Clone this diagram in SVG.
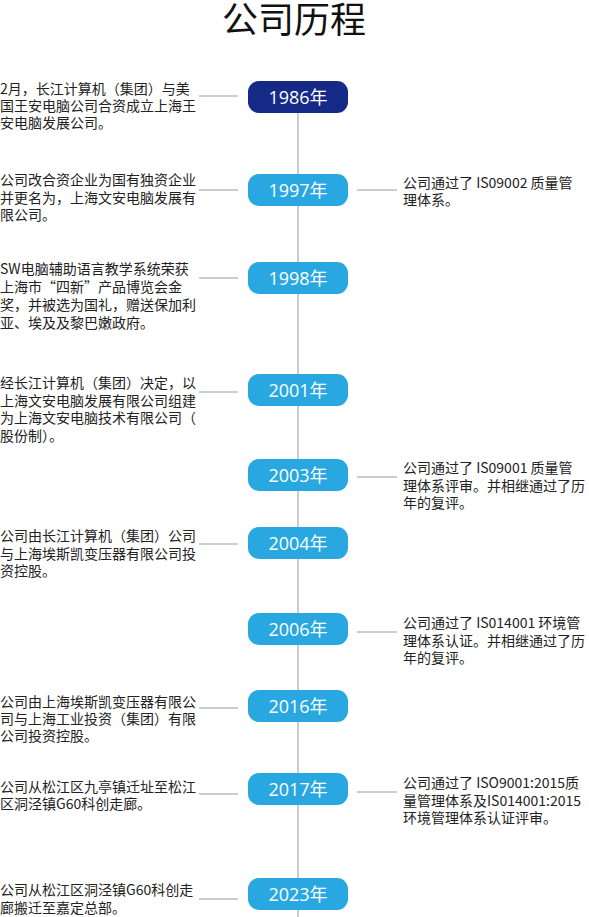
<svg xmlns="http://www.w3.org/2000/svg" width="589" height="917" viewBox="0 0 589 917">
<style>
.title{font-family:"Noto Sans CJK SC","Noto Sans",sans-serif;font-size:36px;fill:#111;}
.t{font-family:"Noto Sans CJK SC","Noto Sans",sans-serif;font-size:14px;fill:#222;}
.yr{font-family:"Open Sans","Noto Sans CJK SC",sans-serif;font-size:18px;fill:#fff;text-anchor:middle;}
.pill{fill:#29a7e1;}
.pill.first{fill:#152a87;}
.conn line{stroke:#cccccc;stroke-width:2;}
.axis{stroke:#cccccc;stroke-width:4;}
</style>
<rect width="589" height="917" fill="#fff"/>
<text class="title" x="294" y="33" text-anchor="middle">公司历程</text>
<g id="connectors" class="conn">
<line class="axis" x1="298" y1="105" x2="298" y2="917"/>
<line x1="199" y1="96" x2="238" y2="96"/>
<line x1="199" y1="190" x2="238" y2="190"/>
<line x1="199" y1="278" x2="238" y2="278"/>
<line x1="199" y1="392" x2="238" y2="392"/>
<line x1="199" y1="544" x2="238" y2="544"/>
<line x1="199" y1="708" x2="238" y2="708"/>
<line x1="199" y1="794" x2="238" y2="794"/>
<line x1="199" y1="899" x2="238" y2="899"/>
<line x1="357" y1="190" x2="397" y2="190"/>
<line x1="357" y1="477" x2="397" y2="477"/>
<line x1="357" y1="632" x2="397" y2="632"/>
<line x1="357" y1="792" x2="397" y2="792"/>
</g>
<g id="y1986">
<rect class="pill first" x="248" y="81" width="100" height="32" rx="11"/>
<text class="yr" x="298" y="103.5">1986年</text>
<text class="t" x="0" y="94"><tspan x="0">2月，长江计算机（集团）与美</tspan><tspan x="0" dy="17">国王安电脑公司合资成立上海王</tspan><tspan x="0" dy="17">安电脑发展公司。</tspan></text>
</g>
<g id="y1997">
<rect class="pill" x="248" y="174" width="100" height="32" rx="11"/>
<text class="yr" x="298" y="196.5">1997年</text>
<text class="t" x="0" y="185"><tspan x="0">公司改合资企业为国有独资企业</tspan><tspan x="0" dy="17.5">并更名为，上海文安电脑发展有</tspan><tspan x="0" dy="17.5">限公司。</tspan></text>
<text class="t" x="403" y="187.5"><tspan x="403">公司通过了 IS09002 质量管</tspan><tspan x="403" dy="17.5">理体系。</tspan></text>
</g>
<g id="y1998">
<rect class="pill" x="248" y="262" width="100" height="32" rx="11"/>
<text class="yr" x="298" y="284.5">1998年</text>
<text class="t" x="0" y="274"><tspan x="0">SW电脑辅助语言教学系统荣获</tspan><tspan x="0" dy="18">上海市“四新”产品博览会金</tspan><tspan x="0" dy="18">奖，并被选为国礼，赠送保加利</tspan><tspan x="0" dy="18">亚、埃及及黎巴嫩政府。</tspan></text>
</g>
<g id="y2001">
<rect class="pill" x="248" y="374" width="100" height="32" rx="11"/>
<text class="yr" x="298" y="396.5">2001年</text>
<text class="t" x="0" y="388"><tspan x="0">经长江计算机（集团）决定，以</tspan><tspan x="0" dy="17.5">上海文安电脑发展有限公司组建</tspan><tspan x="0" dy="17.5">为上海文安电脑技术有限公司（</tspan><tspan x="0" dy="17.5">股份制）。</tspan></text>
</g>
<g id="y2003">
<rect class="pill" x="248" y="459" width="100" height="32" rx="11"/>
<text class="yr" x="298" y="481.5">2003年</text>
<text class="t" x="403" y="473"><tspan x="403">公司通过了 IS09001 质量管</tspan><tspan x="403" dy="17.5">理体系评审。并相继通过了历</tspan><tspan x="403" dy="17.5">年的复评。</tspan></text>
</g>
<g id="y2004">
<rect class="pill" x="248" y="527" width="100" height="32" rx="11"/>
<text class="yr" x="298" y="549.5">2004年</text>
<text class="t" x="0" y="541"><tspan x="0">公司由长江计算机（集团）公司</tspan><tspan x="0" dy="17.5">与上海埃斯凯变压器有限公司投</tspan><tspan x="0" dy="17.5">资控股。</tspan></text>
</g>
<g id="y2006">
<rect class="pill" x="248" y="613" width="100" height="32" rx="11"/>
<text class="yr" x="298" y="635.5">2006年</text>
<text class="t" x="403" y="628"><tspan x="403">公司通过了 IS014001 环境管</tspan><tspan x="403" dy="17.5">理体系认证。并相继通过了历</tspan><tspan x="403" dy="17.5">年的复评。</tspan></text>
</g>
<g id="y2016">
<rect class="pill" x="248" y="690" width="100" height="32" rx="11"/>
<text class="yr" x="298" y="712.5">2016年</text>
<text class="t" x="0" y="707"><tspan x="0">公司由上海埃斯凯变压器有限公</tspan><tspan x="0" dy="17">司与上海工业投资（集团）有限</tspan><tspan x="0" dy="17">公司投资控股。</tspan></text>
</g>
<g id="y2017">
<rect class="pill" x="248" y="773" width="100" height="32" rx="11"/>
<text class="yr" x="298" y="795.5">2017年</text>
<text class="t" x="0" y="792"><tspan x="0">公司从松江区九亭镇迁址至松江</tspan><tspan x="0" dy="17">区洞泾镇G60科创走廊。</tspan></text>
<text class="t" x="403" y="788"><tspan x="403">公司通过了 ISO9001:2015质</tspan><tspan x="403" dy="17.5">量管理体系及IS014001:2015</tspan><tspan x="403" dy="17.5">环境管理体系认证评审。</tspan></text>
</g>
<g id="y2023">
<rect class="pill" x="248" y="878" width="100" height="32" rx="11"/>
<text class="yr" x="298" y="900.5">2023年</text>
<text class="t" x="0" y="895"><tspan x="0">公司从松江区洞泾镇G60科创走</tspan><tspan x="0" dy="17.5">廊搬迁至嘉定总部。</tspan></text>
</g>
</svg>
